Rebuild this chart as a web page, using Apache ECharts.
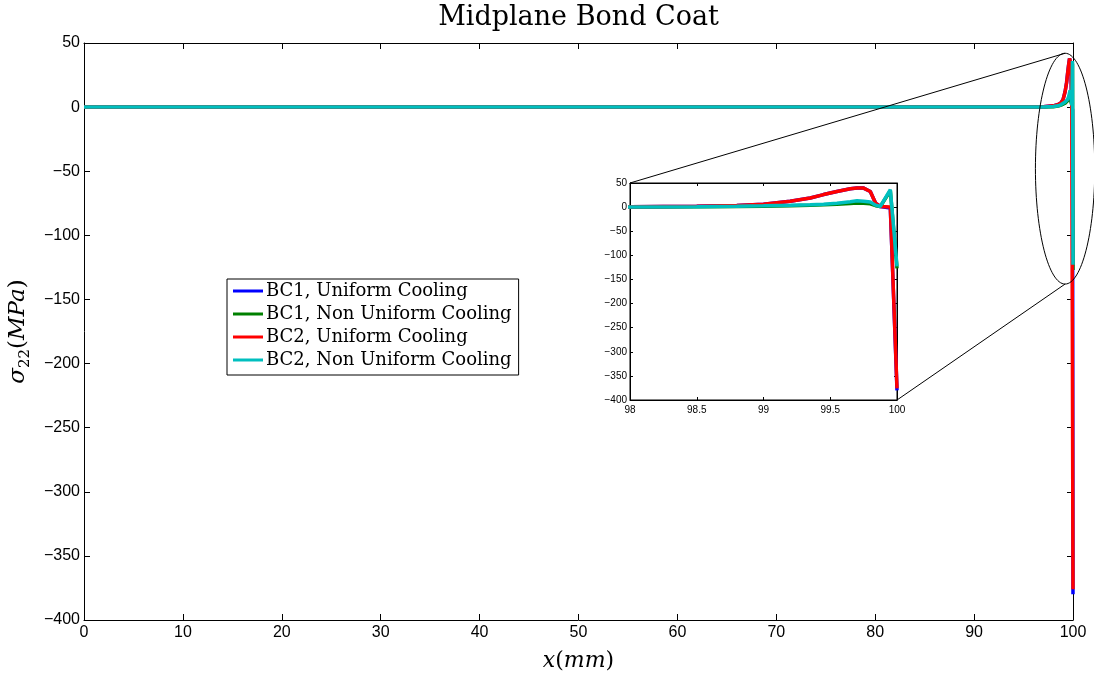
<!DOCTYPE html>
<html>
<head>
<meta charset="utf-8">
<title>Midplane Bond Coat</title>
<script src="https://cdn.jsdelivr.net/npm/echarts@6/dist/echarts.min.js"></script>
<style>
  html, body { margin: 0; padding: 0; background: #fff; }
  #chart { width: 1094px; height: 673px; }
</style>
</head>
<body>
<div id="chart"></div>
<script>
// Position along the midplane, mm
const xMm = [0, 10, 20, 30, 40, 50, 60, 70, 80, 90, 95, 97, 98, 98.5, 98.8, 99, 99.2, 99.35, 99.45,
  99.55, 99.65, 99.7, 99.75, 99.8, 99.84, 99.875, 99.95, 100];

// sigma_22 (MPa) along the bond coat midplane
const bc1Uniform = [0, 0, 0, 0, 0, 0, 0, 0, 0, 0, 0, 0.3, 1, 2, 3.5, 6, 12, 19, 26,
  32.5, 38, 39.5, 39.5, 32.5, 8, 1.4, -2, -380];
const bc1NonUniform = [0, 0, 0, 0, 0, 0, 0, 0, 0, 0, 0, 0, 0.3, 0.8, 1.5, 2, 3, 4, 5,
  6, 7.5, 8.3, 8, 7, 3, 1.4, 34, -127];
const bc2Uniform = [0, 0, 0, 0, 0, 0, 0, 0, 0, 0, 0, 0.3, 1, 2, 3.5, 6, 12, 19, 26,
  32.5, 38, 39.5, 39.5, 32.5, 8, 1.4, 0, -376];
const bc2NonUniform = [0, 0, 0, 0, 0, 0, 0, 0, 0, 0, 0, 0, 0.4, 1, 2, 2.8, 4, 5, 6,
  8, 11, 13, 12, 10.4, 4, 1.4, 36, -123];

const seriesNames = ['BC1, Uniform Cooling', 'BC1, Non Uniform Cooling',
  'BC2, Uniform Cooling', 'BC2, Non Uniform Cooling'];
const seriesValues = [bc1Uniform, bc1NonUniform, bc2Uniform, bc2NonUniform];
const seriesColors = ['#0000ff', '#008000', '#ff0000', '#00bfbf'];

// Axis ticks
const mainXTicks = [0, 10, 20, 30, 40, 50, 60, 70, 80, 90, 100];
const mainYTicks = [-400, -350, -300, -250, -200, -150, -100, -50, 0, 50];
const insetXTicks = [98, 98.5, 99, 99.5, 100];

// Zoomed region marker (x in mm, y in MPa) and its half extents
const lensCenter = [99.2, -48];
const lensHalf = [3.0, 90];

const titleText = 'Midplane Bond Coat';
const sansFont = '"Liberation Sans", Arial, Helvetica, sans-serif';
const serifFont = '"DejaVu Serif", serif';
const minus = v => String(v).replace('-', '\u2212');

function pairs(vals) {
  return xMm.map((x, i) => [x, vals[i]]);
}

function frameAxis(extra) {
  return Object.assign({
    type: 'value',
    axisLine: { show: true, onZero: false, lineStyle: { color: '#000', width: 1 } },
    axisTick: { show: true, inside: true, length: 6, lineStyle: { color: '#000' } },
    axisLabel: { show: false },
    splitLine: { show: false }
  }, extra);
}

const chart = echarts.init(document.getElementById('chart'), null, { renderer: 'canvas' });

const series = [];
seriesNames.forEach((name, i) => {
  series.push({
    name: name, type: 'line', xAxisIndex: 0, yAxisIndex: 0,
    data: pairs(seriesValues[i]), symbol: 'none', showSymbol: false,
    lineStyle: { color: seriesColors[i], width: 3.5 }, itemStyle: { color: seriesColors[i] },
    z: 2, animation: false
  });
});
seriesNames.forEach((name, i) => {
  series.push({
    name: name, type: 'line', xAxisIndex: 2, yAxisIndex: 2,
    data: pairs(seriesValues[i]), symbol: 'none', showSymbol: false,
    lineStyle: { color: seriesColors[i], width: 3.5 }, itemStyle: { color: seriesColors[i] },
    z: 12, animation: false
  });
});

const option = {
  animation: false,
  backgroundColor: '#fff',
  legend: {
    data: seriesNames,
    orient: 'vertical',
    left: 227, top: 279,
    icon: 'rect', itemWidth: 30, itemHeight: 3, itemGap: 5,
    padding: [3, 7, 6, 6],
    backgroundColor: '#fff', borderColor: '#000', borderWidth: 1,
    textStyle: { fontFamily: serifFont, fontSize: 18, color: '#000', padding: [0, 0, 0, -2] },
    z: 20
  },
  grid: [
    { left: 84, top: 43, width: 989, height: 577, show: false, outerBoundsMode: 'none', containLabel: false },
    { left: 630, top: 183, width: 267, height: 217, show: true, backgroundColor: '#fff',
      borderColor: '#000', borderWidth: 1, z: 10, outerBoundsMode: 'none', containLabel: false }
  ],
  xAxis: [
    frameAxis({
      gridIndex: 0, position: 'bottom', min: 0, max: 100, interval: 10,
      axisLabel: { show: true, margin: 5, fontFamily: sansFont, fontSize: 16, color: '#000',
        formatter: v => mainXTicks.includes(v) ? minus(v) : '' },
      name: '{i|x}{n|(}{i|mm}{n|)}', nameLocation: 'middle', nameGap: 30,
      nameTextStyle: { rich: {
        i: { fontFamily: serifFont, fontStyle: 'italic', fontSize: 22, color: '#000' },
        n: { fontFamily: serifFont, fontSize: 22, color: '#000' }
      } }
    }),
    frameAxis({ gridIndex: 0, position: 'top', min: 0, max: 100, interval: 10 }),
    frameAxis({
      gridIndex: 1, position: 'bottom', min: 98, max: 100, interval: 0.5,
      axisTick: { show: true, inside: true, length: 3, lineStyle: { color: '#000' } },
      axisLabel: { show: true, margin: 5, fontFamily: sansFont, fontSize: 10, color: '#000',
        formatter: v => insetXTicks.includes(v) ? String(v) : '' },
      z: 11
    }),
    frameAxis({ gridIndex: 1, position: 'top', min: 98, max: 100, interval: 0.5,
      axisTick: { show: true, inside: true, length: 3, lineStyle: { color: '#000' } }, z: 11 })
  ],
  yAxis: [
    frameAxis({
      gridIndex: 0, position: 'left', min: -400, max: 50, interval: 50,
      axisLabel: { show: true, margin: 4, fontFamily: sansFont, fontSize: 16, color: '#000',
        formatter: v => mainYTicks.includes(v) ? minus(v) : '' },
      name: '{i|\u03c3}{s|22}{n|(}{i|MPa}{n|)}', nameLocation: 'middle', nameGap: 47,
      nameRotate: 90,
      nameTextStyle: { rich: {
        i: { fontFamily: serifFont, fontStyle: 'italic', fontSize: 23, color: '#000', lineHeight: 30 },
        s: { fontFamily: serifFont, fontSize: 15, color: '#000', verticalAlign: 'bottom', lineHeight: 30 },
        n: { fontFamily: serifFont, fontSize: 23, color: '#000', lineHeight: 30 }
      } }
    }),
    frameAxis({ gridIndex: 0, position: 'right', min: -400, max: 50, interval: 50 }),
    frameAxis({
      gridIndex: 1, position: 'left', min: -400, max: 50, interval: 50,
      axisTick: { show: true, inside: true, length: 3, lineStyle: { color: '#000' } },
      axisLabel: { show: true, margin: 3, fontFamily: sansFont, fontSize: 10, color: '#000',
        formatter: v => minus(v) },
      z: 11
    }),
    frameAxis({ gridIndex: 1, position: 'right', min: -400, max: 50, interval: 50,
      axisTick: { show: true, inside: true, length: 3, lineStyle: { color: '#000' } }, z: 11 })
  ],
  series: series
};

chart.setOption(option);

// Title centred over the plot area
const plotLeft = chart.convertToPixel({ gridIndex: 0 }, [0, 50]);
const plotRight = chart.convertToPixel({ gridIndex: 0 }, [100, 50]);

// Zoom marker: ellipse round the edge region plus leader lines to the inset corners
const c = chart.convertToPixel({ gridIndex: 0 }, lensCenter);
const corner = chart.convertToPixel({ gridIndex: 0 }, [lensCenter[0] + lensHalf[0], lensCenter[1] + lensHalf[1]]);
const rx = Math.abs(corner[0] - c[0]);
const ry = Math.abs(corner[1] - c[1]);
const insetTopLeft = chart.convertToPixel({ gridIndex: 1 }, [98, 50]);
const insetBottomRight = chart.convertToPixel({ gridIndex: 1 }, [100, -400]);

chart.setOption({
  graphic: [
    { type: 'text', x: (plotLeft[0] + plotRight[0]) / 2, y: 18, silent: true,
      style: { text: titleText, align: 'center', verticalAlign: 'middle',
        fontFamily: serifFont, fontSize: 27, fill: '#000' } },
    { type: 'ellipse', shape: { cx: c[0], cy: c[1], rx: rx, ry: ry },
      style: { fill: 'none', stroke: '#000', lineWidth: 1 }, z: 5, silent: true },
    { type: 'line', shape: { x1: c[0], y1: c[1] - ry, x2: insetTopLeft[0], y2: insetTopLeft[1] },
      style: { stroke: '#000', lineWidth: 1 }, z: 5, silent: true },
    { type: 'line', shape: { x1: c[0], y1: c[1] + ry, x2: insetBottomRight[0], y2: insetBottomRight[1] },
      style: { stroke: '#000', lineWidth: 1 }, z: 5, silent: true }
  ]
});
</script>
</body>
</html>
